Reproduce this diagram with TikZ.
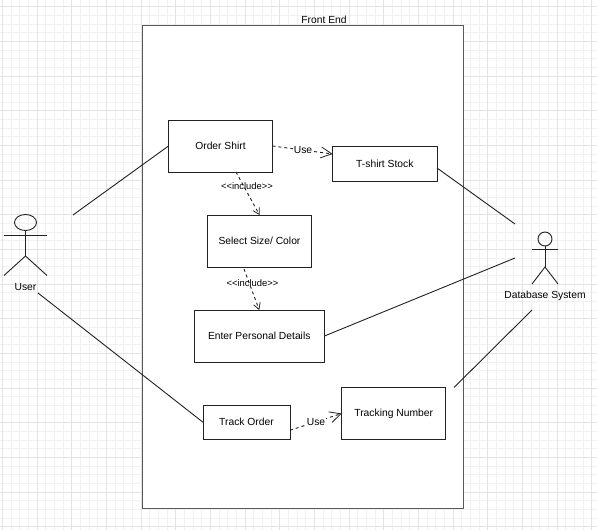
\documentclass[tikz,border=0pt]{standalone}
\usepackage{fontspec}
\setmainfont{Liberation Sans}
\usetikzlibrary{arrows.meta,shapes.geometric}
\definecolor{gridmajor}{HTML}{E3E3E3}
\definecolor{gridminor}{HTML}{F1F1F1}
\definecolor{ink}{HTML}{222222}
\tikzset{
  box/.style={draw=ink,line width=.9pt,fill=white,inner sep=0pt,outer sep=0pt,font=\fontsize{10.3}{12}\selectfont},
  lnk/.style={draw=ink,line width=.9pt},
  dep/.style={draw=ink,line width=.9pt,dash pattern=on 3pt off 3pt,-{Straight Barb[length=6pt,width=7pt,line width=.8pt]}},
  usedep/.style={draw=ink,line width=.9pt,dash pattern=on 3pt off 3pt,-{Straight Barb[length=11pt,width=11pt,line width=.8pt]}},
  deplabel/.style={fill=white,inner sep=.5pt,font=\fontsize{10.3}{12}\selectfont},
  inclabel/.style={inner sep=0pt,font=\fontsize{9.4}{11}\selectfont},
  plainlabel/.style={inner sep=0pt,font=\fontsize{10.3}{12}\selectfont},
  stick/.style={draw=ink,line width=.9pt}
}
\begin{document}
\begin{tikzpicture}[x=1pt,y=-1pt]
\useasboundingbox (0,0) rectangle (597,530);
\fill[white] (0,0) rectangle (597,530);
% background grid
\foreach \k in {0,...,68} {
  \draw[gridminor,line width=.6pt] ({2.33+8.667*\k},0) -- ({2.33+8.667*\k},530);
  \draw[gridminor,line width=.6pt] (0,{6.67+8.667*(\k-0)}) -- (597,{6.67+8.667*(\k-0)});
}
\foreach \k in {0,...,17} {
  \draw[gridmajor,line width=.8pt] ({2.33+34.67*\k},0) -- ({2.33+34.67*\k},530);
  \draw[gridmajor,line width=.8pt] (0,{6.67+34.67*\k}) -- (597,{6.67+34.67*\k});
}
% system frame
\node[box,draw=ink!75!white,line width=1pt,minimum width=320.5pt,minimum height=483pt] (frame) at (302.75,266.5) {};
\node[plainlabel] (frametitle) at (324,19.5) {Front End};
% use cases
\node[box,minimum width=104pt,minimum height=52pt] (order) at (220.5,146) {Order Shirt};
\node[box,minimum width=104pt,minimum height=52pt] (select) at (259.5,241) {Select Size/ Color};
\node[box,minimum width=130.5pt,minimum height=52pt] (enter) at (259.25,336) {Enter Personal Details};
\node[box,minimum width=104.3pt,minimum height=35pt] (stock) at (384.85,163.5) {T-shirt Stock};
\node[box,minimum width=87pt,minimum height=34.5pt] (track) at (246.5,422.25) {Track Order};
\node[box,minimum width=104pt,minimum height=52pt] (number) at (393.7,413.5) {Tracking Number};
% user actor
\node[draw=ink,line width=.9pt,ellipse,minimum width=22pt,minimum height=16pt,inner sep=0pt,outer sep=0pt] (userhead) at (25.5,222.5) {};
\coordinate (userhip) at (25.5,256);
\draw[stick] (userhead.south) -- (userhip);
\draw[stick] (4,235) -- (47,235);
\draw[stick] (4,275.5) -- (userhip) -- (47,275.5);
\node[plainlabel] (user) at (25.5,287) {User};
% database actor
\node[draw=ink,line width=.9pt,circle,minimum size=14pt,inner sep=0pt,outer sep=0pt] (dbhead) at (545,239) {};
\coordinate (dbhip) at (545,267);
\draw[stick] (dbhead.south) -- (dbhip);
\draw[stick] (532,249.5) -- (558,249.5);
\draw[stick] (532,284) -- (dbhip) -- (558,284);
\node[plainlabel] (db) at (545,296) {Database System};
% free ends of the associations
\coordinate (userA) at (73,215);
\coordinate (userB) at (38,293);
\coordinate (dbA) at (515,224);
\coordinate (dbB) at (515,258);
\coordinate (dbC) at (532,310);
\coordinate (numberC) at (454,387.5);
% associations
\draw[lnk] (userA) -- (order.west);
\draw[lnk] (userB) -- (track.west);
\draw[lnk] ([yshift=-4.5pt]stock.east) -- (dbA);
\draw[lnk] (enter.east) -- (dbB);
\draw[lnk] (numberC) -- (dbC);
% dependencies
\draw[usedep] (order.east) -- ([yshift=9.5pt]stock.west);
\draw[dep] ([xshift=15.5pt]order.south) -- (select.north);
\draw[dep] ([xshift=-15.5pt,yshift=-2pt]select.south) -- (enter.north);
\draw[usedep] ([yshift=-8pt]track.east) -- (number.west);
% dependency labels
\node[deplabel] (use1) at (303,150) {Use};
\node[inclabel] (inc1) at (247,186) {<{}<include>{}>};
\node[inclabel] (inc2) at (252.5,283) {<{}<include>{}>};
\node[deplabel] (use2) at (316,422) {Use};
\end{tikzpicture}
\end{document}
